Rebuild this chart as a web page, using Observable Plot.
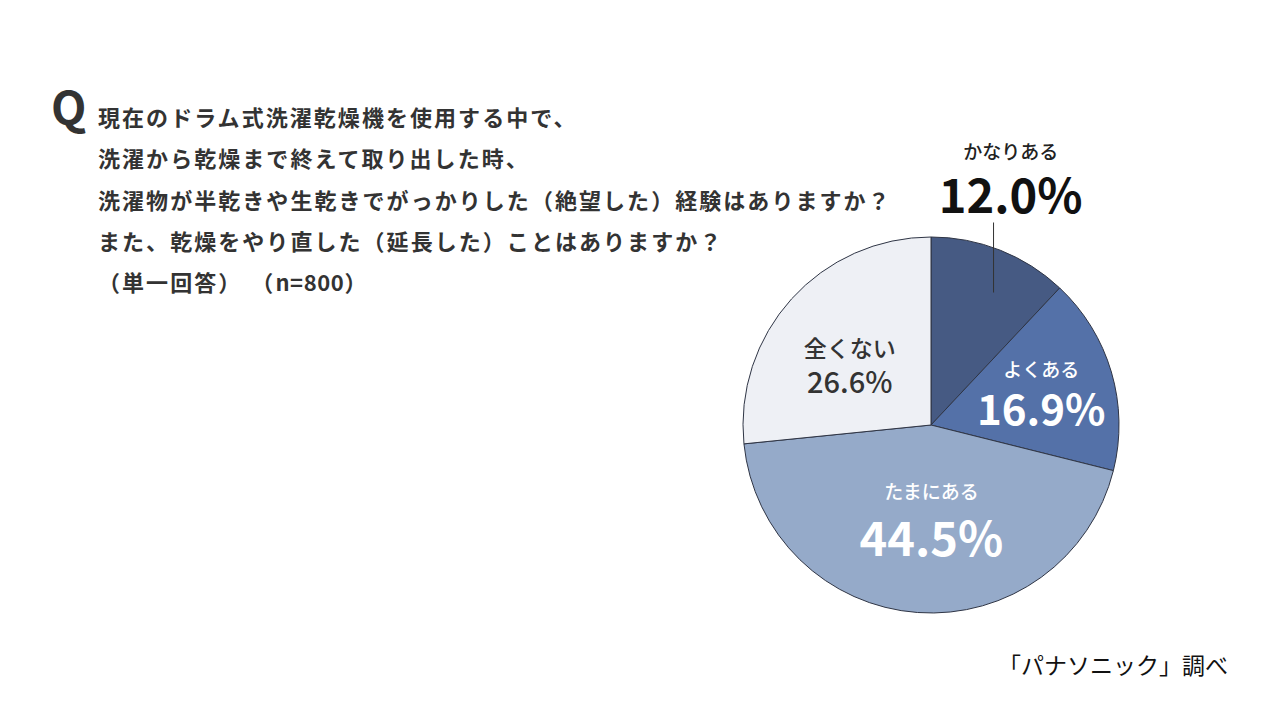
<!DOCTYPE html>
<html><head><meta charset="utf-8">
<script src="https://cdn.jsdelivr.net/npm/d3@7"></script>
<script src="https://cdn.jsdelivr.net/npm/@observablehq/plot@0.6"></script>
<style>
body{margin:0;background:#fff;font-family:"Noto Sans CJK JP","Noto Sans",sans-serif;}
#wrap{position:relative;width:1280px;height:720px;overflow:hidden;background:#fff;}
#chart{position:absolute;left:0;top:0;}
#q{position:absolute;left:51px;top:82px;font-size:46px;font-weight:700;line-height:46px;color:#333;}
#title{position:absolute;left:98px;top:96px;font-size:22px;font-weight:700;line-height:41.3px;color:#333;letter-spacing:2.05px;white-space:nowrap;}
#title .lat{letter-spacing:0.6px;}
#title .gap{display:inline-block;width:9px;}
#caption{position:absolute;right:52px;top:648px;font-size:23px;line-height:32px;color:#111;white-space:nowrap;}
</style></head><body>
<div id="wrap"><div id="chart"></div><div id="q">Q</div><div id="title"></div><div id="caption"></div></div>
<script>
// ---- data ----
const categories = ["かなりある", "よくある", "たまにある", "全くない"];
const values = [12.0, 16.9, 44.5, 26.6];
const valueLabels = ["12.0%", "16.9%", "44.5%", "26.6%"];
const titleLines = [
  "現在のドラム式洗濯乾燥機を使用する中で、",
  "洗濯から乾燥まで終えて取り出した時、",
  "洗濯物が半乾きや生乾きでがっかりした（絶望した）経験はありますか？",
  "また、乾燥をやり直した（延長した）ことはありますか？",
  "（単一回答）（n=800）"
];
const captionText = "「パナソニック」調べ";

// ---- styles / layout ----
const sliceColors = ["#465a83", "#5471a8", "#95aac9", "#eef0f5"];
const cx = 931, cy = 425, R = 188;
const labelLayout = [
  {r: 262, nudge: -4.0, gap: 22.5, nameSize: 19, valueSize: 47, nameFill: "#222", valueFill: "#111", valueWeight: 700},
  {r: 115, nudge: -1.0, gap: 20.5, nameSize: 19, valueSize: 42, nameFill: "#fff", valueFill: "#fff", valueWeight: 700},
  {r: 91.5, nudge: -4.1, gap: 24, nameSize: 19, valueSize: 47, nameFill: "#fff", valueFill: "#fff", valueWeight: 700},
  {r: 101, nudge: -6.2, gap: 17, nameSize: 23, valueSize: 29, nameFill: "#333", valueFill: "#333", valueWeight: 500}
];

const esc = t => t
  .replace(/[A-Za-z0-9=]+/g, m => `<span class="lat">${m}</span>`)
  .replace(/）（/g, `）<span class="gap"></span>（`);
document.getElementById("title").innerHTML = titleLines.map(t => `<div>${esc(t)}</div>`).join("");
document.getElementById("caption").textContent = captionText;

const arcs = d3.pie().sort(null).value(d => d)(values);
const slices = arcs.map((a, i) => {
  const L = labelLayout[i];
  const mid = (a.startAngle + a.endAngle) / 2 + L.nudge * Math.PI / 180;
  return {
    i, name: categories[i], label: valueLabels[i],
    lx: cx + L.r * Math.sin(mid), ly: cy - L.r * Math.cos(mid)
  };
});

function pieMark(index, scales, vals, dimensions, context) {
  const sx = scales && scales.x ? scales.x : (v => v);
  const sy = scales && scales.y ? scales.y : (v => v);
  const X = sx(cx), Y = sy(cy), r = sx(cx + R) - X;
  const arc = d3.arc().innerRadius(0).outerRadius(r);
  const g = d3.create("svg:g").attr("transform", `translate(${X},${Y})`);
  g.selectAll("path").data(arcs).join("path")
    .attr("d", arc)
    .attr("fill", (d, i) => sliceColors[i])
    .attr("stroke", "#2f3545")
    .attr("stroke-width", 1);
  return g.node();
}

// leader line for the outside label
const leader = [{x: cx + R * 0.33, y1: 222, y2: 292}];

const textMarks = [];
slices.forEach((s, i) => {
  const L = labelLayout[i];
  textMarks.push(Plot.text([s], {x: "lx", y: "ly", text: "name", dy: -L.gap, fontSize: L.nameSize, fontWeight: 500, fill: L.nameFill, lineAnchor: "middle", textAnchor: "middle"}));
  textMarks.push(Plot.text([s], {x: "lx", y: "ly", text: "label", dy: L.gap, fontSize: L.valueSize, fontWeight: L.valueWeight, fill: L.valueFill, lineAnchor: "middle", textAnchor: "middle"}));
});

const plot = Plot.plot({
  width: 1280, height: 720,
  margin: 0,
  style: {background: "transparent", fontFamily: "'Noto Sans CJK JP', 'Noto Sans', sans-serif", overflow: "visible"},
  x: {domain: [0, 1280], range: [0, 1280], axis: null},
  y: {domain: [0, 720], range: [0, 720], axis: null},
  marks: [
    pieMark,
    Plot.link(leader, {x1: "x", x2: "x", y1: "y1", y2: "y2", stroke: "#333", strokeWidth: 1}),
    ...textMarks
  ]
});
document.getElementById("chart").appendChild(plot);
</script>
</body></html>
